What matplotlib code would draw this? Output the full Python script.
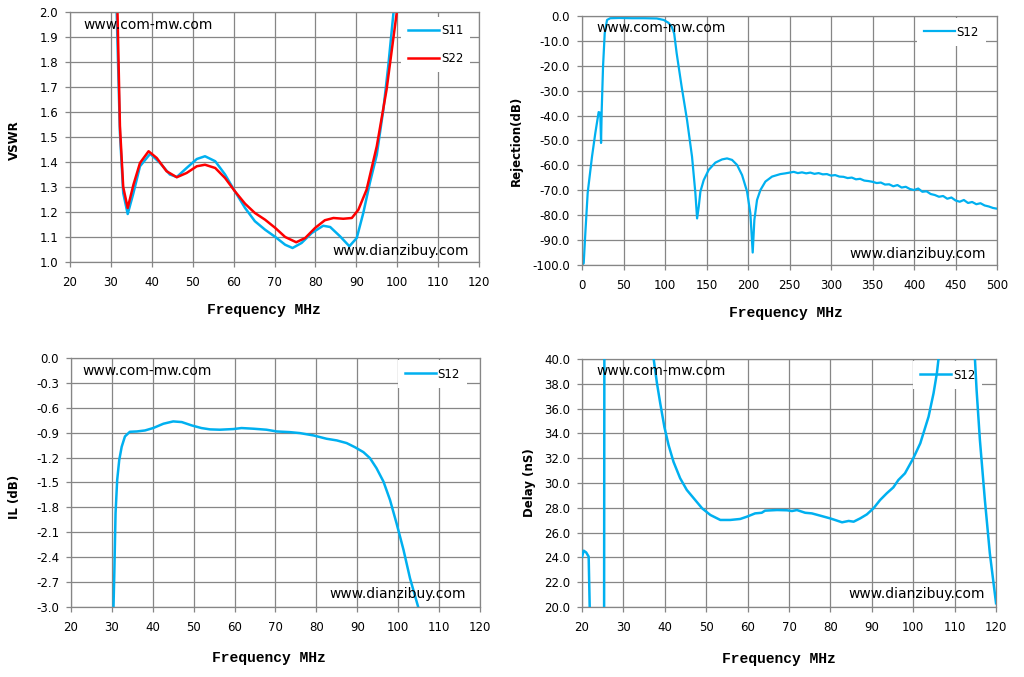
import matplotlib
matplotlib.use("Agg")
import matplotlib.pyplot as plt
from matplotlib.ticker import FormatStrFormatter

# ---------------- data ----------------
# VSWR (top-left)
vswr_s11_freq = [30.9, 31.4, 32.2, 33.0, 34.1, 35.5, 37.1, 39.6, 42.0, 44.4, 46.1, 48.5, 51.0, 53.0,
                 55.5, 57.9, 60.3, 62.8, 65.2, 67.7, 70.2, 72.6, 74.4, 76.6, 79.1, 81.9, 83.6, 86.0,
                 88.3, 90.1, 91.7, 93.3, 95.0, 96.6, 97.8, 99.1, 99.6]
vswr_s11 = [2.60, 2.00, 1.516, 1.276, 1.192, 1.276, 1.383, 1.433, 1.396, 1.350, 1.340, 1.376, 1.412, 1.423,
            1.403, 1.350, 1.283, 1.216, 1.163, 1.129, 1.100, 1.069, 1.056, 1.076, 1.116, 1.145, 1.140, 1.103,
            1.063, 1.096, 1.196, 1.316, 1.429, 1.609, 1.783, 2.000, 2.080]

vswr_s22_freq = [31.0, 31.6, 32.2, 33.0, 34.1, 35.5, 37.1, 39.2, 41.2, 43.6, 46.1, 48.5, 51.0, 53.0,
                 55.5, 57.9, 60.3, 62.8, 65.2, 67.7, 70.2, 72.6, 75.3, 77.5, 79.9, 82.3, 84.4, 86.8,
                 88.9, 90.5, 92.5, 95.0, 97.4, 99.9, 100.3]
vswr_s22 = [2.60, 2.00, 1.543, 1.300, 1.216, 1.309, 1.396, 1.443, 1.416, 1.363, 1.339, 1.356, 1.383, 1.389,
            1.376, 1.336, 1.283, 1.233, 1.196, 1.169, 1.136, 1.100, 1.079, 1.096, 1.136, 1.167, 1.176, 1.173,
            1.176, 1.209, 1.289, 1.463, 1.690, 2.000, 2.060]

# Rejection (top-right)
rej_freq = [0, 2, 4, 6.8, 12, 16, 20, 22, 22.9, 23.7, 25.3, 27.3, 30.1, 34, 45, 60, 75, 90, 98.4, 104,
            108, 111, 114, 120, 126.5, 132.5, 136.5, 138.6, 140.6, 142.6, 146.6, 152.6, 160.6, 168.7,
            174.7, 180.7, 186.7, 192.8, 198.8, 202.8, 205.6, 207.6, 210.8, 214.9, 220.9, 228.9, 238.9, 245,
            250, 255, 260, 265, 270, 275, 280, 285, 290, 295, 300, 305, 310, 315, 320, 325, 330, 335,
            340, 345, 350, 355, 360, 365, 370, 375, 380, 385, 390, 395, 400, 405, 410, 415, 420, 425,
            430, 435, 440, 445, 450, 455, 460, 465, 470, 475, 480, 485, 490, 495, 500]
rej_s12 = [-100, -99.3, -87, -71, -56.5, -47, -38.6, -38.9, -51, -37.8, -20.3, -7, -1.6, -0.9, -0.8, -0.9,
           -0.9, -1.0, -1.6, -2.7, -4.3, -7, -15, -28.4, -41.8, -56.5, -71, -81.3, -76.6, -70.5, -65.9,
           -61.8, -58.9, -57.6, -57.2, -57.8, -59.8, -63.9, -70.5, -79.3, -95, -81.9, -73.9, -69.9, -66.5,
           -64.5, -63.5, -63.2,
           -62.9, -62.6, -63.1, -62.8, -63.2, -62.9, -63.4, -63.1, -63.6, -63.5, -64.1, -63.9, -64.5, -64.6,
           -65.1, -64.9, -65.6, -65.4, -66.1, -66.3, -66.6, -67.1, -66.9, -67.7, -67.6, -68.4, -67.9, -68.9,
           -68.6, -69.5, -69.9, -69.3, -70.6, -70.4, -71.5, -71.9, -72.6, -72.3, -73.4, -72.9, -74.1, -74.6,
           -73.9, -75.1, -74.7, -75.6, -75.2, -76.1, -76.5, -77.1, -77.4]

# Insertion loss (bottom-left)
il_freq = [30.3, 30.6, 30.9, 31.3, 31.8, 32.4, 33.2, 34.4, 36.1, 38.1, 40.1, 42.6, 45.0, 47.1, 49.5,
           51.9, 54.0, 56.4, 59.7, 61.7, 64.6, 67.8, 70.3, 73.5, 76.0, 79.3, 82.5, 85.0, 87.4, 89.4,
           91.5, 93.1, 94.7, 96.4, 98.0, 99.6, 101.3, 102.9, 104.9, 105.2]
il_s12 = [-3.2, -2.59, -1.87, -1.47, -1.23, -1.07, -0.945, -0.889, -0.885, -0.873, -0.844, -0.792, -0.764,
          -0.772, -0.812, -0.844, -0.860, -0.864, -0.856, -0.844, -0.852, -0.864, -0.885, -0.893, -0.905,
          -0.933, -0.973, -0.993, -1.025, -1.074, -1.134, -1.206, -1.327, -1.488, -1.709, -1.990, -2.310,
          -2.654, -3.000, -3.100]

# Group delay (bottom-right)
delay_freq = [20.0, 20.4, 21.0, 21.6, 21.85, 21.95, 25.3, 25.45, 37.0, 37.3, 38.1, 38.9, 39.9, 40.9, 42.1,
              43.7, 45.3, 47.0, 49.0, 51.0, 53.4, 55.8, 58.2, 59.8, 61.8, 63.4, 64.2, 67.1, 69.5, 70.7,
              71.9, 73.9, 75.5, 77.5, 79.9, 81.1, 82.8, 84.4, 85.6, 87.2, 88.8, 90.4, 92.0, 93.6, 95.2,
              96.4, 98.0, 100.0, 101.7, 103.7, 104.9, 105.7, 106.1, 106.5, 114.6, 114.9, 115.3, 116.1,
              117.3, 118.5, 120.0]
delay_s12 = [24.06, 24.54, 24.4, 24.06, 20.0, 10.0, 10.0, 60.0, 60.0, 40.0, 38.04, 36.4, 34.5, 33.06, 31.7,
             30.38, 29.44, 28.76, 27.96, 27.42, 27.02, 27.02, 27.1, 27.28, 27.55, 27.6, 27.77, 27.82, 27.8,
             27.74, 27.82, 27.6, 27.55, 27.37, 27.15, 27.02, 26.83, 26.94, 26.88, 27.15, 27.47, 27.96,
             28.63, 29.17, 29.65, 30.24, 30.78, 31.99, 33.2, 35.35, 37.23, 38.84, 40.0, 42.0, 42.0, 40.0,
             37.5, 33.47, 28.63, 24.33, 20.3]

# axis ticks
freq_ticks_narrow = [20, 30, 40, 50, 60, 70, 80, 90, 100, 110, 120]
freq_ticks_wide = [0, 50, 100, 150, 200, 250, 300, 350, 400, 450, 500]
vswr_ticks = [1.0, 1.1, 1.2, 1.3, 1.4, 1.5, 1.6, 1.7, 1.8, 1.9, 2.0]
rej_ticks = [-100, -90, -80, -70, -60, -50, -40, -30, -20, -10, 0]
il_ticks = [-3.0, -2.7, -2.4, -2.1, -1.8, -1.5, -1.2, -0.9, -0.6, -0.3, 0.0]
delay_ticks = [20, 22, 24, 26, 28, 30, 32, 34, 36, 38, 40]

# ---------------- style ----------------
BLUE = "#00B0F0"
RED = "#FF0000"
GRID = "#868686"
plt.rcParams["font.family"] = ["DejaVu Sans"]

fig = plt.figure(figsize=(10.24, 6.77), dpi=100)


def style(ax, xticks, yticks, ylabel, xlab_pos, ylab_pos):
    ax.set_xlim(xticks[0], xticks[-1])
    ax.set_ylim(yticks[0], yticks[-1])
    ax.set_xticks(xticks)
    ax.set_yticks(yticks)
    ax.yaxis.set_major_formatter(FormatStrFormatter("%.1f"))
    ax.set_axisbelow(True)
    ax.grid(True, color=GRID, linewidth=0.9)
    for s in ax.spines.values():
        s.set_color(GRID)
        s.set_linewidth(0.9)
    ax.tick_params(direction="out", length=3.6, width=0.9, color=GRID, labelsize=8.5,
                   labelcolor="#000000")
    ax.tick_params(axis="x", pad=6.5)
    ax.tick_params(axis="y", pad=5.0)
    ax.set_xlabel("Frequency MHz", family="Liberation Mono", fontweight="bold", fontsize=10.5)
    ax.xaxis.set_label_coords(*xlab_pos)
    ax.set_ylabel(ylabel, fontweight="bold", fontsize=8.5)
    ax.yaxis.set_label_coords(*ylab_pos)


def marks(ax, top_pos, bot_pos):
    ax.text(top_pos[0], top_pos[1], "www.com-mw.com", transform=ax.transAxes, fontsize=10,
            ha="left", va="center", zorder=6)
    ax.text(bot_pos[0], bot_pos[1], "www.dianzibuy.com", transform=ax.transAxes, fontsize=10,
            ha="right", va="center", zorder=6)


def legend(ax, pos, zorder=5):
    lg = ax.legend(loc="upper left", bbox_to_anchor=pos, frameon=True, fancybox=False,
                   edgecolor="none", facecolor="white", framealpha=1.0, fontsize=8.5,
                   handlelength=2.6, handletextpad=0.15, labelspacing=1.3, borderpad=0.6,
                   borderaxespad=0.0)
    lg.set_zorder(zorder)
    return lg


# top-left: VSWR
ax1 = fig.add_axes([0.0684, 0.613, 0.3994, 0.3693])
ax1.plot(vswr_s11_freq, vswr_s11, color=BLUE, lw=1.8, label="S11")
ax1.plot(vswr_s22_freq, vswr_s22, color=RED, lw=1.8, label="S22")
style(ax1, freq_ticks_narrow, vswr_ticks, "VSWR", (0.475, -0.165), (-0.12, 0.488))
marks(ax1, (0.032, 0.948), (0.976, 0.044))
legend(ax1, (0.81, 0.98))

# top-right: Rejection
ax2 = fig.add_axes([0.5684, 0.6086, 0.4053, 0.3678])
ax2.plot(rej_freq, rej_s12, color=BLUE, lw=1.6, label="S12")
style(ax2, freq_ticks_wide, rej_ticks, "Rejection(dB)", (0.49, -0.165), (-0.143, 0.498))
marks(ax2, (0.034, 0.952), (0.973, 0.044))
legend(ax2, (0.807, 0.99))

# bottom-left: IL
ax3 = fig.add_axes([0.0693, 0.1034, 0.3994, 0.3678])
ax3.plot(il_freq, il_s12, color=BLUE, lw=1.8, label="S12")
style(ax3, freq_ticks_narrow, il_ticks, "IL (dB)", (0.484, -0.177), (-0.122, 0.442))
marks(ax3, (0.027, 0.948), (0.966, 0.052))
legend(ax3, (0.80, 0.99))

# bottom-right: Delay
ax4 = fig.add_axes([0.5684, 0.1034, 0.4043, 0.3663])
ax4.plot(delay_freq, delay_s12, color=BLUE, lw=1.8, label="S12", zorder=3)
style(ax4, freq_ticks_narrow, delay_ticks, "Delay (nS)", (0.475, -0.181), (-0.111, 0.50))
marks(ax4, (0.034, 0.952), (0.973, 0.052))
legend(ax4, (0.80, 0.99), zorder=2)

fig.savefig("out.png", dpi=100)
